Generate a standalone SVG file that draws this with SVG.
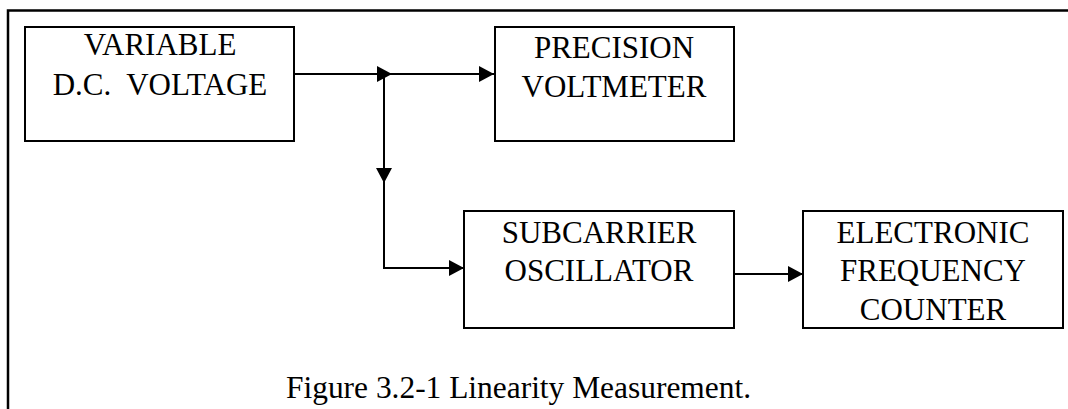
<svg xmlns="http://www.w3.org/2000/svg" width="1068" height="409" viewBox="0 0 1068 409">
<defs>
<marker id="ah" markerUnits="userSpaceOnUse" viewBox="0 0 15 16" refX="15" refY="8" markerWidth="15" markerHeight="16" orient="auto">
<path d="M0,0 L15,8 L0,16 z" fill="#000"/>
</marker>
<style>
.box{fill:#fff;stroke:#000;stroke-width:2}
.lbl{font-family:"Liberation Serif","Times New Roman",serif;font-size:31px;fill:#000;text-anchor:middle;white-space:pre}
.cap{font-family:"Liberation Serif","Times New Roman",serif;font-size:31px;fill:#000}
.wire{fill:none;stroke:#000;stroke-width:2;marker-end:url(#ah)}
</style>
</defs>
<rect width="1068" height="409" fill="#fff"/>
<path d="M8,409 V10.5 H1068" fill="none" stroke="#000" stroke-width="2.5"/>
<g id="variable-dc-voltage">
<rect class="box" x="25" y="27" width="269" height="114"/>
<text class="lbl" x="160" y="55">VARIABLE</text>
<text class="lbl" x="160" y="95" xml:space="preserve">D.C.  VOLTAGE</text>
</g>
<g id="precision-voltmeter">
<rect class="box" x="495" y="27" width="239" height="114"/>
<text class="lbl" x="614" y="58">PRECISION</text>
<text class="lbl" x="614" y="97">VOLTMETER</text>
</g>
<g id="subcarrier-oscillator">
<rect class="box" x="464" y="211" width="270" height="117"/>
<text class="lbl" x="599" y="243">SUBCARRIER</text>
<text class="lbl" x="599" y="281">OSCILLATOR</text>
</g>
<g id="electronic-frequency-counter">
<rect class="box" x="803" y="211" width="260" height="117"/>
<text class="lbl" x="933" y="243">ELECTRONIC</text>
<text class="lbl" x="933" y="281">FREQUENCY</text>
<text class="lbl" x="933" y="320">COUNTER</text>
</g>
<g id="connectors">
<path class="wire" d="M294,74 H392"/>
<path class="wire" d="M384,74 H494"/>
<path class="wire" d="M384,74 V183"/>
<path class="wire" d="M384,182 V268 H464"/>
<path class="wire" d="M734,274 H803"/>
</g>
<text class="cap" x="286" y="398" textLength="465" lengthAdjust="spacingAndGlyphs">Figure 3.2-1 Linearity Measurement.</text>
</svg>
